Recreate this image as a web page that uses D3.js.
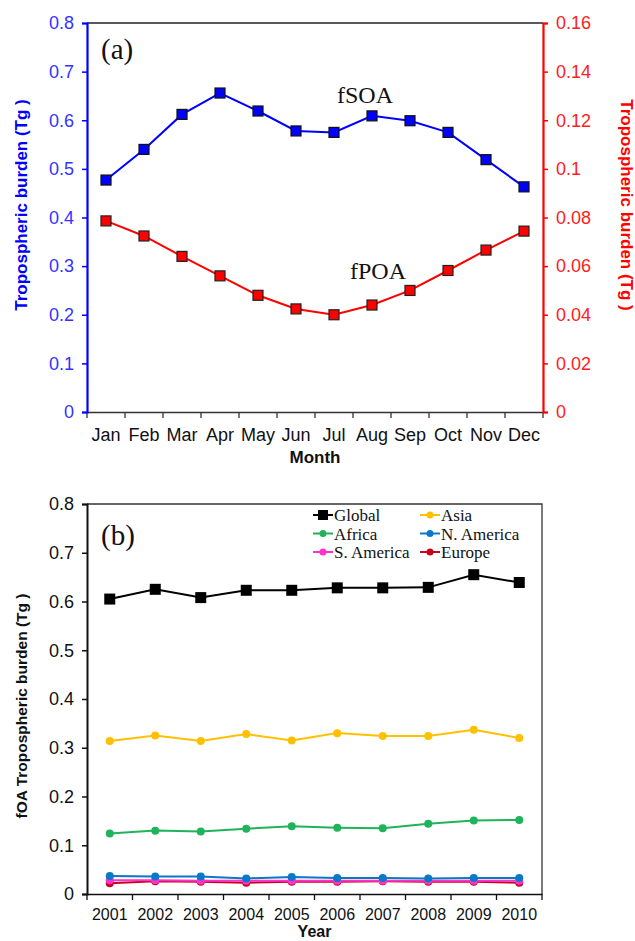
<!DOCTYPE html>
<html>
<head>
<meta charset="utf-8">
<script src="https://cdn.jsdelivr.net/npm/d3@7"></script>
<style>
  body { margin: 0; background: #fff; }
  svg { display: block; }
  .tick text { font-family: "Liberation Sans", Arial, sans-serif; }
</style>
</head>
<body>
<svg id="chart"></svg>
<script>
// panel (a): monthly burden
const months = ["Jan", "Feb", "Mar", "Apr", "May", "Jun", "Jul", "Aug", "Sep", "Oct", "Nov", "Dec"];
const fSOA = [0.477, 0.540, 0.612, 0.656, 0.619, 0.578, 0.575, 0.609, 0.599, 0.575, 0.519, 0.463];
const fPOA = [0.0786, 0.0724, 0.0640, 0.0560, 0.0480, 0.0424, 0.0400, 0.0440, 0.0500, 0.0582, 0.0666, 0.0744];
const leftTicks = [0, 0.1, 0.2, 0.3, 0.4, 0.5, 0.6, 0.7, 0.8];
const rightTicks = [0, 0.02, 0.04, 0.06, 0.08, 0.1, 0.12, 0.14, 0.16];

// panel (b): yearly burden by region
const years = ["2001", "2002", "2003", "2004", "2005", "2006", "2007", "2008", "2009", "2010"];
const globalVals = [0.605, 0.625, 0.608, 0.623, 0.623, 0.628, 0.628, 0.629, 0.655, 0.639];
const asiaVals = [0.314, 0.325, 0.314, 0.328, 0.315, 0.330, 0.324, 0.324, 0.337, 0.320];
const africaVals = [0.124, 0.130, 0.128, 0.134, 0.139, 0.136, 0.135, 0.144, 0.151, 0.152];
const nAmericaVals = [0.037, 0.036, 0.036, 0.032, 0.035, 0.033, 0.033, 0.032, 0.033, 0.033];
const sAmericaVals = [0.028, 0.028, 0.027, 0.027, 0.027, 0.027, 0.027, 0.027, 0.027, 0.027];
const europeVals = [0.022, 0.026, 0.025, 0.023, 0.025, 0.025, 0.026, 0.025, 0.025, 0.023];
const bTicks = [0, 0.1, 0.2, 0.3, 0.4, 0.5, 0.6, 0.7, 0.8];

const regions = [
  { name: "Global", values: globalVals, color: "#000000", shape: "square" },
  { name: "Asia", values: asiaVals, color: "#ffc000", shape: "circle" },
  { name: "Africa", values: africaVals, color: "#1fb35a", shape: "circle" },
  { name: "N. America", values: nAmericaVals, color: "#0a78c8", shape: "circle" },
  { name: "S. America", values: sAmericaVals, color: "#ff33cc", shape: "circle" },
  { name: "Europe", values: europeVals, color: "#c8001e", shape: "circle" }
];

const W = 635, H = 941;
const svg = d3.select("#chart").attr("width", W).attr("height", H);
const sans = "'Liberation Sans', Arial, sans-serif";
const serif = "'Liberation Serif', 'Times New Roman', serif";

// ---------- panel (a) ----------
const a = { left: 87, right: 543, top: 23, bottom: 412 };
const xa = d3.scaleBand().domain(months).range([a.left, a.right]);
const yaL = d3.scaleLinear().domain([0, 0.8]).range([a.bottom, a.top]);
const yaR = d3.scaleLinear().domain([0, 0.16]).range([a.bottom, a.top]);
const blue = "#0000ff", red = "#ff0000";
const ga = svg.append("g");

// top frame line
ga.append("line").attr("x1", a.left).attr("x2", a.right)
  .attr("y1", a.top).attr("y2", a.top).attr("stroke", "#222").attr("stroke-width", 1.3);

// bottom axis: ticks at band edges
const xAxisA = ga.append("g").attr("transform", `translate(0,${a.bottom})`)
  .call(d3.axisBottom(xa).tickSize(0).tickPadding(16));
xAxisA.select(".domain").attr("stroke", "#333").attr("stroke-width", 1.3);
xAxisA.selectAll("text").attr("font-size", 18).attr("fill", "#111");
const edgesA = months.map(m => xa(m)).concat([a.right]);
ga.selectAll(".edgeA").data(edgesA).enter().append("line")
  .attr("x1", d => d).attr("x2", d => d)
  .attr("y1", a.bottom).attr("y2", a.bottom + 6)
  .attr("stroke", "#333").attr("stroke-width", 1.3);

const yAxisL = ga.append("g").attr("transform", `translate(${a.left},0)`)
  .call(d3.axisLeft(yaL).tickValues(leftTicks).tickFormat(d3.format("~g")).tickSize(5).tickPadding(8));
yAxisL.select(".domain").attr("stroke", blue).attr("stroke-width", 2.2);
yAxisL.selectAll(".tick line").attr("stroke", blue).attr("stroke-width", 1.5);
yAxisL.selectAll("text").attr("font-size", 18).attr("fill", "#3333ff");

const yAxisR = ga.append("g").attr("transform", `translate(${a.right},0)`)
  .call(d3.axisRight(yaR).tickValues(rightTicks).tickFormat(d3.format("~g")).tickSize(5).tickPadding(8));
yAxisR.select(".domain").attr("stroke", red).attr("stroke-width", 2.2);
yAxisR.selectAll(".tick line").attr("stroke", red).attr("stroke-width", 1.5);
yAxisR.selectAll("text").attr("font-size", 18).attr("fill", "#ff2020");

const cx = m => xa(m) + xa.bandwidth() / 2;
const lineSOA = d3.line().x((d, i) => cx(months[i])).y(d => yaL(d));
const linePOA = d3.line().x((d, i) => cx(months[i])).y(d => yaR(d));

ga.append("path").attr("d", linePOA(fPOA)).attr("fill", "none").attr("stroke", red).attr("stroke-width", 2);
ga.append("path").attr("d", lineSOA(fSOA)).attr("fill", "none").attr("stroke", blue).attr("stroke-width", 2);

ga.selectAll(".mSOA").data(fSOA).enter().append("rect")
  .attr("x", (d, i) => cx(months[i]) - 5).attr("y", d => yaL(d) - 5)
  .attr("width", 10).attr("height", 10)
  .attr("fill", blue).attr("stroke", "#111").attr("stroke-width", 1.2);
ga.selectAll(".mPOA").data(fPOA).enter().append("rect")
  .attr("x", (d, i) => cx(months[i]) - 5).attr("y", d => yaR(d) - 5)
  .attr("width", 10).attr("height", 10)
  .attr("fill", red).attr("stroke", "#222").attr("stroke-width", 1.2);

ga.append("text").attr("x", 101).attr("y", 59).text("(a)")
  .attr("font-family", serif).attr("font-size", 29).attr("fill", "#111");
ga.append("text").attr("x", 337).attr("y", 103).text("fSOA")
  .attr("font-family", serif).attr("font-size", 24).attr("fill", "#111");
ga.append("text").attr("x", 350).attr("y", 279).text("fPOA")
  .attr("font-family", serif).attr("font-size", 24).attr("fill", "#111");

ga.append("text").attr("transform", "translate(27,205) rotate(-90)")
  .attr("text-anchor", "middle").text("Tropospheric burden (Tg )")
  .attr("font-family", sans).attr("font-weight", "bold").attr("font-size", 17).attr("fill", blue);
ga.append("text").attr("transform", "translate(621,205) rotate(90)")
  .attr("text-anchor", "middle").text("Tropospheric burden (Tg )")
  .attr("font-family", sans).attr("font-weight", "bold").attr("font-size", 17).attr("fill", red);
ga.append("text").attr("x", (a.left + a.right) / 2).attr("y", 463).attr("text-anchor", "middle")
  .text("Month").attr("font-family", sans).attr("font-weight", "bold").attr("font-size", 17).attr("fill", "#111");

// ---------- panel (b) ----------
const b = { left: 87, right: 542, top: 504, bottom: 894 };
const xb = d3.scaleBand().domain(years).range([b.left, b.right]);
const yb = d3.scaleLinear().domain([0, 0.8]).range([b.bottom, b.top]);
const gb = svg.append("g");

// frame top and right
gb.append("path").attr("d", `M${b.left},${b.top}H${b.right}V${b.bottom}`)
  .attr("fill", "none").attr("stroke", "#333").attr("stroke-width", 1.3);

const xAxisB = gb.append("g").attr("transform", `translate(0,${b.bottom})`)
  .call(d3.axisBottom(xb).tickSize(0).tickPadding(15));
xAxisB.select(".domain").attr("stroke", "#111").attr("stroke-width", 1.5);
xAxisB.selectAll("text").attr("font-size", 16).attr("fill", "#111");
const edgesB = years.map(y => xb(y)).concat([b.right]);
gb.selectAll(".edgeB").data(edgesB).enter().append("line")
  .attr("x1", d => d).attr("x2", d => d)
  .attr("y1", b.bottom).attr("y2", b.bottom + 6)
  .attr("stroke", "#111").attr("stroke-width", 1.3);

const yAxisB = gb.append("g").attr("transform", `translate(${b.left},0)`)
  .call(d3.axisLeft(yb).tickValues(bTicks).tickFormat(d3.format("~g")).tickSize(5).tickPadding(8));
yAxisB.select(".domain").attr("stroke", "#111").attr("stroke-width", 2);
yAxisB.selectAll(".tick line").attr("stroke", "#111").attr("stroke-width", 1.5);
yAxisB.selectAll("text").attr("font-size", 18).attr("fill", "#111");

const cxb = y => xb(y) + xb.bandwidth() / 2;
const lineB = d3.line().x((d, i) => cxb(years[i])).y(d => yb(d));

// draw bottom series first so Global / upper lines sit on top
regions.slice().reverse().forEach(r => {
  gb.append("path").attr("d", lineB(r.values)).attr("fill", "none")
    .attr("stroke", r.color).attr("stroke-width", 2);
  if (r.shape === "square") {
    gb.selectAll(null).data(r.values).enter().append("rect")
      .attr("x", (d, i) => cxb(years[i]) - 5.5).attr("y", d => yb(d) - 5.5)
      .attr("width", 11).attr("height", 11).attr("fill", r.color);
  } else {
    gb.selectAll(null).data(r.values).enter().append("circle")
      .attr("cx", (d, i) => cxb(years[i])).attr("cy", d => yb(d))
      .attr("r", 4).attr("fill", r.color);
  }
});

gb.append("text").attr("x", 101).attr("y", 545).text("(b)")
  .attr("font-family", serif).attr("font-size", 29).attr("fill", "#111");

// legend
const legend = gb.append("g");
regions.forEach((r, i) => {
  const col = i % 2, row = Math.floor(i / 2);
  const lx = col === 0 ? 313 : 420, ly = 515 + row * 18.5;
  legend.append("line").attr("x1", lx).attr("x2", lx + 20).attr("y1", ly).attr("y2", ly)
    .attr("stroke", r.color).attr("stroke-width", 2);
  if (r.shape === "square") {
    legend.append("rect").attr("x", lx + 5).attr("y", ly - 5).attr("width", 10).attr("height", 10).attr("fill", r.color);
  } else {
    legend.append("circle").attr("cx", lx + 10).attr("cy", ly).attr("r", 3.5).attr("fill", r.color);
  }
  legend.append("text").attr("x", lx + 21).attr("y", ly + 6).text(r.name)
    .attr("font-family", serif).attr("font-size", 17).attr("fill", "#111");
});

gb.append("text").attr("transform", "translate(27,706) rotate(-90)")
  .attr("text-anchor", "middle").text("fOA Tropospheric burden (Tg )")
  .attr("font-family", sans).attr("font-weight", "bold").attr("font-size", 15.5).attr("fill", "#111");
gb.append("text").attr("x", (b.left + b.right) / 2).attr("y", 937).attr("text-anchor", "middle")
  .text("Year").attr("font-family", sans).attr("font-weight", "bold").attr("font-size", 16).attr("fill", "#111");
</script>
</body>
</html>
